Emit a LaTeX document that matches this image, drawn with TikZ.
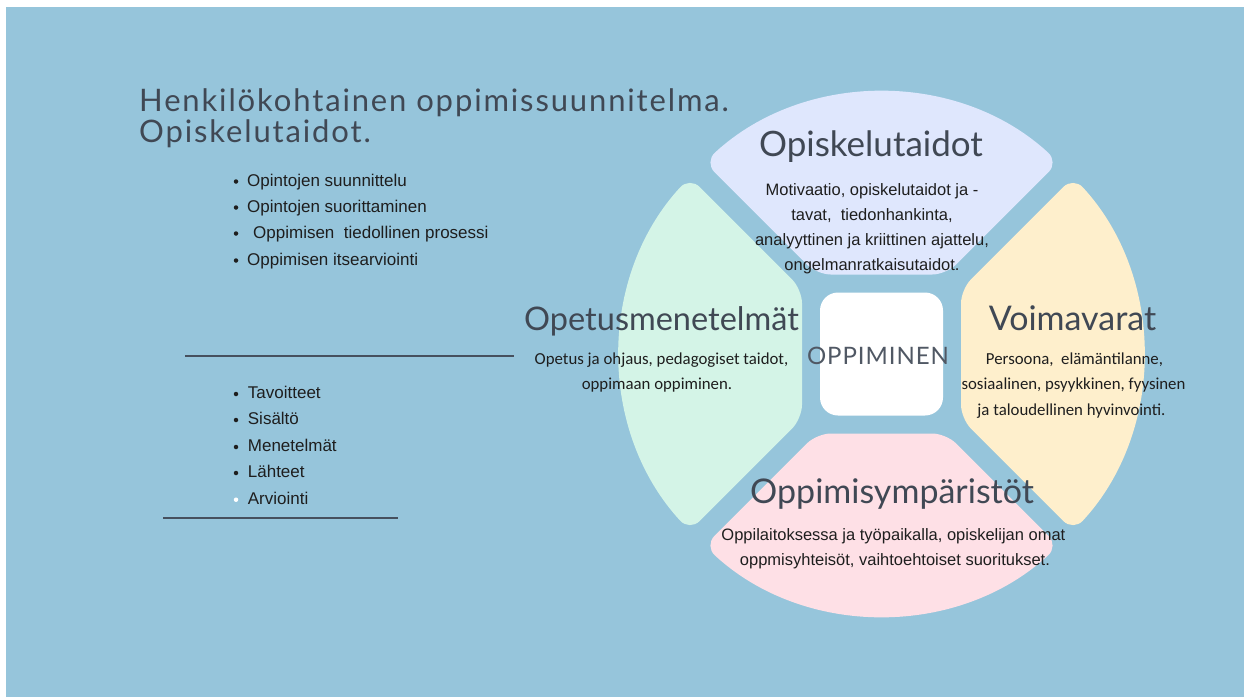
\documentclass[tikz,border=0pt]{standalone}
\usepackage{fontspec}
\setmainfont{Liberation Sans}
\newfontfamily\headfont{Lato}
\newfontfamily\titlefont[LetterSpace=6]{Lato}
\newfontfamily\calfont{Carlito}
\newfontfamily\oppfont[LetterSpace=4]{Lato}
\usetikzlibrary{calc}
\definecolor{bgblue}{RGB}{150,197,219}
\definecolor{segtop}{RGB}{223,231,253}
\definecolor{segleft}{RGB}{212,244,231}
\definecolor{segright}{RGB}{254,239,204}
\definecolor{segbottom}{RGB}{254,224,230}
\definecolor{headgray}{RGB}{64,72,84}
\definecolor{oppgray}{RGB}{80,88,100}
\definecolor{bodyblack}{RGB}{30,30,30}
\definecolor{rulegray}{RGB}{70,80,94}
\begin{document}
\begin{tikzpicture}[x=1pt,y=-1pt,
  seg/.style={rounded corners=14pt},
  heading/.style={font=\headfont\fontsize{34}{38}\selectfont, text=headgray, inner sep=0pt, anchor=base},
  titletext/.style={font=\titlefont\fontsize{31}{34}\selectfont, text=headgray, inner sep=0pt, anchor=base west},
  body/.style={font=\fontsize{16.5}{20}\selectfont, text=bodyblack, inner sep=0pt, anchor=base},
  calbody/.style={font=\calfont\fontsize{16.8}{20}\selectfont, text=bodyblack, inner sep=0pt, anchor=base},
  listitem/.style={font=\fontsize{17}{20}\selectfont, text=bodyblack, inner sep=0pt, anchor=base west},
  bulletdot/.style={circle, fill=bodyblack, inner sep=0pt, minimum size=4.5pt},
  rulel/.style={draw=rulegray, line width=2pt}]
\useasboundingbox (0,0) rectangle (1244,697);
\fill[bgblue] (6,7) rectangle (1244,697);
\coordinate (C) at (881.5,354);
% four segments
\foreach \ang/\col in {0/segtop,90/segleft,180/segbottom,-90/segright}{
  \begin{scope}[rotate around={\ang:(C)}]
    \fill[\col, seg] (816.85,274.5) -- (704.52,162.2) arc[start angle=227.3, end angle=312.7, radius=261] -- (946.15,274.5) -- cycle;
  \end{scope}
}
\node[fill=white, rounded corners=18pt, minimum width=123pt, minimum height=123pt, inner sep=0pt] (core) at (C) {};
\node[font=\oppfont\fontsize{24}{28}\selectfont, text=oppgray, inner sep=0pt, anchor=base] (opp) at (878,364) {OPPIMINEN};
% headings
\node[heading, font=\headfont\fontsize{35}{38}\selectfont] (h1) at (871,156.7) {Opiskelutaidot};
\node[heading, font=\headfont\fontsize{32.5}{38}\selectfont] (h2) at (661.5,330) {Opetusmenetelmät};
\node[heading] (h3) at (1072.5,330) {Voimavarat};
\node[heading] (h4) at (892,503) {Oppimisympäristöt};
% top body
\node[body] (t1) at (872,195) {Motivaatio, opiskelutaidot ja -};
\node[body] (t2) at (872,220) {tavat,\ \ tiedonhankinta,};
\node[body] (t3) at (872,245) {analyyttinen ja kriittinen ajattelu,};
\node[body] (t4) at (872,270) {ongelmanratkaisutaidot.};
% bottom body
\node[body] (b1) at (893.4,540.7) {Oppilaitoksessa ja työpaikalla, opiskelijan omat};
\node[body] (b2) at (894.9,565.7) {oppmisyhteisöt, vaihtoehtoiset suoritukset.};
% left body
\node[calbody] (l1) at (661.5,364) {Opetus ja ohjaus, pedagogiset taidot,};
\node[calbody] (l2) at (657,389) {oppimaan oppiminen.};
% right body
\node[calbody] (r1) at (1074.5,364) {Persoona,\ \ elämäntilanne,};
\node[calbody] (r2) at (1073.5,389) {sosiaalinen, psyykkinen, fyysinen};
\node[calbody] (r3) at (1071.5,415) {ja taloudellinen hyvinvointi.};
% title
\node[titletext] (title1) at (139,111) {Henkilökohtainen oppimissuunnitelma.};
\node[titletext] (title2) at (139,142) {Opiskelutaidot.};
% upper list
\node[bulletdot] (u1d) at (236,181.5) {};
\node[listitem] (u1) at (247,186) {Opintojen suunnittelu};
\node[bulletdot] (u2d) at (236,207.5) {};
\node[listitem] (u2) at (247,212) {Opintojen suorittaminen};
\node[bulletdot] (u3d) at (236,233.5) {};
\node[listitem] (u3) at (253,238) {Oppimisen\ \ tiedollinen prosessi};
\node[bulletdot] (u4d) at (236,260.5) {};
\node[listitem] (u4) at (247,265) {Oppimisen itsearviointi};
% rules
\coordinate (ra1) at (185,355.7);
\coordinate (ra2) at (514,355.7);
\coordinate (rb1) at (163,517.7);
\coordinate (rb2) at (398,517.7);
\draw[rulel] (ra1) -- (ra2);
\draw[rulel] (rb1) -- (rb2);
% lower list
\node[bulletdot] (w1d) at (236,394) {};
\node[listitem] (w1) at (247.7,398.3) {Tavoitteet};
\node[bulletdot] (w2d) at (236,420) {};
\node[listitem] (w2) at (247.7,424.3) {Sisältö};
\node[bulletdot] (w3d) at (236,447) {};
\node[listitem] (w3) at (247.7,451) {Menetelmät};
\node[bulletdot] (w4d) at (236,473) {};
\node[listitem] (w4) at (247.7,477.3) {Lähteet};
\node[bulletdot, fill=white] (w5d) at (236,499.7) {};
\node[listitem] (w5) at (247.7,504) {Arviointi};
\end{tikzpicture}
\end{document}
